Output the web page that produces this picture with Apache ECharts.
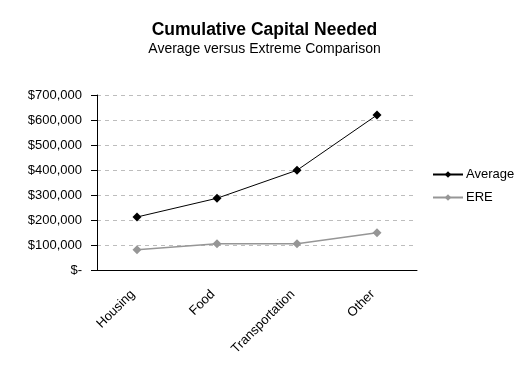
<!DOCTYPE html>
<html>
<head>
<meta charset="utf-8">
<script src="https://cdn.jsdelivr.net/npm/echarts@6/dist/echarts.min.js"></script>
<style>
  html, body { margin: 0; padding: 0; background: #fff; }
  #chart { width: 529px; height: 378px; }
</style>
</head>
<body>
<div id="chart"></div>
<script>
const categories = ['Housing', 'Food', 'Transportation', 'Other']
const average = [212000, 287000, 399000, 620000]
const ere = [81000, 105000, 105000, 149000]
const yTicks = { min: 0, max: 700000, interval: 100000 }

const fmtMoney = v => (v === 0 ? '$-' : '$' + v.toLocaleString('en-US'))

const chart = echarts.init(document.getElementById('chart'), null, { renderer: 'canvas' })

chart.setOption({
  animation: false,
  textStyle: { fontFamily: 'Liberation Sans, Arial, sans-serif' },
  title: {
    text: 'Cumulative Capital Needed',
    subtext: 'Average versus Extreme Comparison',
    left: 'center',
    top: 16,
    itemGap: 3,
    textStyle: { fontSize: 17.5, fontWeight: 'bold', color: '#000' },
    subtextStyle: { fontSize: 14, color: '#000' },
  },
  legend: {
    orient: 'vertical',
    left: 427,
    top: 163,
    itemWidth: 30,
    itemHeight: 8,
    itemGap: 10,
    textStyle: { fontSize: 13, color: '#000', padding: [0, 0, 0, -2] },
    data: ['Average', 'ERE'],
  },
  grid: { left: 97, right: 112, top: 95, bottom: 108 },
  xAxis: {
    type: 'category',
    data: categories,
    boundaryGap: true,
    axisLine: { lineStyle: { color: '#000', width: 1 } },
    axisTick: { length: 5, lineStyle: { color: '#000' } },
    axisLabel: { rotate: 45, fontSize: 13, color: '#000', margin: 18, padding: [0, 6, 0, 0] },
  },
  yAxis: {
    type: 'value',
    ...yTicks,
    axisLine: { show: true, lineStyle: { color: '#000', width: 1 } },
    axisTick: { show: true, length: 6, lineStyle: { color: '#000' } },
    axisLabel: { fontSize: 13, color: '#000', margin: 15, formatter: fmtMoney },
    splitLine: { lineStyle: { color: '#bdbdbd', type: [4, 4] } },
  },
  series: [
    {
      name: 'Average',
      type: 'line',
      data: average,
      symbol: 'diamond',
      symbolSize: 9,
      itemStyle: { color: '#000' },
      lineStyle: { color: '#000', width: 1 },
    },
    {
      name: 'ERE',
      type: 'line',
      data: ere,
      symbol: 'diamond',
      symbolSize: 9,
      itemStyle: { color: '#969696' },
      lineStyle: { color: '#969696', width: 1.5 },
    },
  ],
})
</script>
</body>
</html>
